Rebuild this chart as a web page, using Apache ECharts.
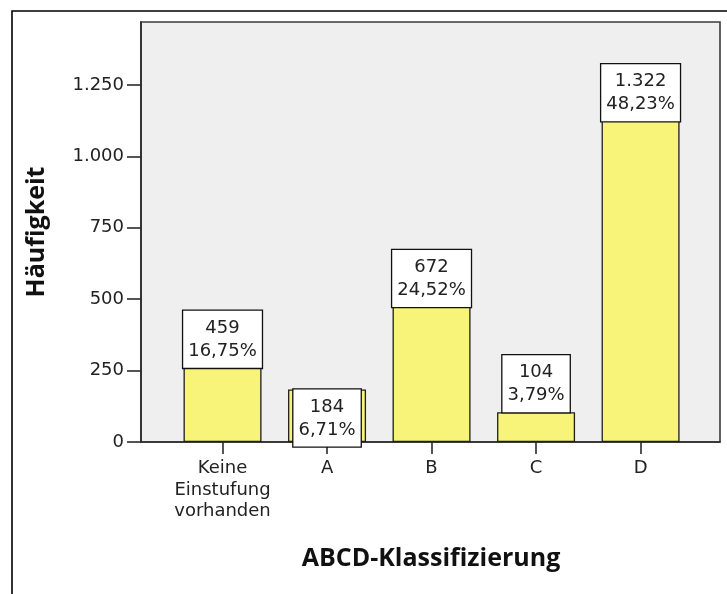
<!DOCTYPE html>
<html>
<head>
<meta charset="utf-8">
<script src="https://cdn.jsdelivr.net/npm/echarts@6/dist/echarts.min.js"></script>
<style>
  html, body { margin: 0; padding: 0; background: #ffffff; }
  #chart { width: 727px; height: 594px; }
</style>
</head>
<body>
<div id="chart"></div>
<script>
// ABCD-Klassifizierung: Häufigkeiten je Klasse
const categories = ['Keine\nEinstufung\nvorhanden', 'A', 'B', 'C', 'D'];
const counts = [459, 184, 672, 104, 1322];
const percents = [16.75, 6.71, 24.52, 3.79, 48.23];
const yTicks = [0, 250, 500, 750, 1000, 1250];
// Where each value box sits relative to its bar
const labelPlacement = ['insideTop', 'insideTop', 'insideTop', 'top', 'insideTop'];

const fmtInt = v => String(v).replace(/\B(?=(\d{3})+(?!\d))/g, '.');
const fmtPct = v => v.toFixed(2).replace('.', ',') + '%';

const FONT = 'DejaVu Sans';
const TITLE_FONT = 'Open Sans';

const chart = echarts.init(document.getElementById('chart'), null, { renderer: 'canvas' });

const barData = counts.map((v, i) => ({
  value: [i, v],
  label: { position: labelPlacement[i] }
}));

chart.setOption({
  backgroundColor: '#ffffff',
  animation: false,
  grid: {
    left: 141, top: 22, width: 579, height: 420,
    show: true,
    backgroundColor: '#efefef',
    borderColor: '#3c3c3c',
    borderWidth: 1.6
  },
  xAxis: {
    type: 'value',
    min: -0.78,
    max: 4.76,
    splitLine: { show: false },
    axisLine: { show: true, onZero: false, lineStyle: { color: '#2a2a2a', width: 1.6 } },
    axisTick: {
      show: true, length: 12, customValues: [0, 1, 2, 3, 4],
      lineStyle: { color: '#2a2a2a', width: 1.6 }
    },
    axisLabel: {
      customValues: [0, 1, 2, 3, 4],
      formatter: v => categories[Math.round(v)],
      margin: 16,
      fontFamily: FONT,
      fontSize: 18,
      lineHeight: 21.5,
      color: '#222'
    }
  },
  yAxis: {
    type: 'value',
    min: 0,
    max: 1470,
    name: 'Häufigkeit',
    nameLocation: 'middle',
    nameGap: 92,
    nameTextStyle: {
      fontFamily: TITLE_FONT, fontWeight: 'bold', fontSize: 25, color: '#111'
    },
    splitLine: { show: false },
    axisLine: { show: true, onZero: false, lineStyle: { color: '#2a2a2a', width: 1.6 } },
    axisTick: {
      show: true, length: 14, customValues: yTicks,
      lineStyle: { color: '#2a2a2a', width: 1.6 }
    },
    axisLabel: {
      customValues: yTicks,
      formatter: v => fmtInt(v),
      margin: 17,
      fontFamily: FONT,
      fontSize: 18,
      color: '#222'
    }
  },
  series: [{
    type: 'bar',
    barWidth: 78,
    data: barData,
    itemStyle: { color: '#f8f479', borderColor: '#1e1e1e', borderWidth: 1.3 },
    label: {
      show: true,
      distance: 0,
      formatter: p => fmtInt(counts[p.dataIndex]) + '\n' + fmtPct(percents[p.dataIndex]),
      backgroundColor: '#ffffff',
      borderColor: '#111',
      borderWidth: 1.3,
      padding: [6, 5, 5, 5],
      lineHeight: 23,
      fontFamily: FONT,
      fontSize: 18,
      color: '#222',
      align: 'center'
    }
  }],
  graphic: [
    {
      type: 'rect',
      silent: true,
      shape: { x: 12, y: 11, width: 800, height: 700 },
      style: { fill: null, stroke: '#000', lineWidth: 1.6 }
    },
    {
      type: 'text',
      x: 431, y: 559,
      style: {
        text: 'ABCD-Klassifizierung',
        fontFamily: TITLE_FONT, fontWeight: 'bold', fontSize: 25,
        fill: '#111', textAlign: 'center', textVerticalAlign: 'middle'
      }
    }
  ]
});
</script>
</body>
</html>
